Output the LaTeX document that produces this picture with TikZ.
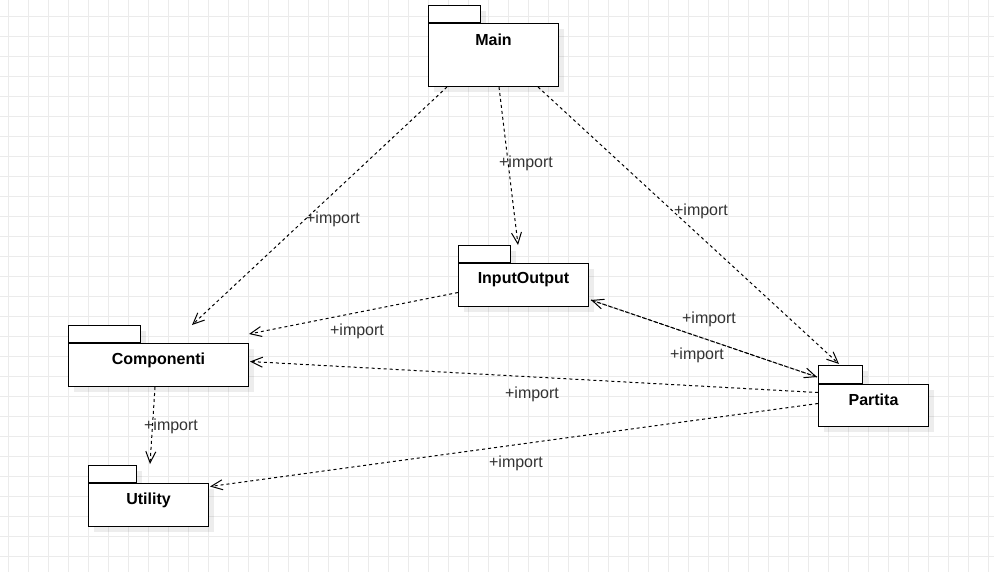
\documentclass[tikz,border=0pt]{standalone}
\usepackage{fontspec}
\setmainfont{Liberation Sans}
\usetikzlibrary{arrows.meta,calc,shadows}
\definecolor{gridc}{HTML}{EBEBEB}
\definecolor{lblc}{HTML}{333333}
\begin{document}
\begin{tikzpicture}[x=0.75pt,y=-0.75pt,
  pkgshadow/.style={drop shadow={shadow xshift=4pt,shadow yshift=-4pt,fill=black,opacity=0.07}},
  pkgtab/.style={draw=black,line width=0.75pt,fill=white,inner sep=0pt,anchor=south west,minimum height=12.75pt,pkgshadow},
  pkgbody/.style={draw=black,line width=0.75pt,fill=white,inner sep=0pt,anchor=north west,pkgshadow},
  pkgname/.style={font=\fontsize{12}{14}\selectfont\bfseries,inner sep=0pt},
  lbl/.style={font=\fontsize{12}{14}\selectfont,text=lblc,inner sep=0pt},
  dep/.style={draw=black,line width=0.75pt,dash pattern=on 2.25pt off 2.25pt,-{Straight Barb[length=8.5pt,width=7.5pt]}}
]
\useasboundingbox (0,0) rectangle (994,572);
\fill[white] (0,0) rectangle (994,572);
\foreach \gx in {8,28,...,988} \draw[gridc,line width=0.75pt] (\gx,0) -- (\gx,572);
\foreach \gy in {16,36,...,556} \draw[gridc,line width=0.75pt] (0,\gy) -- (994,\gy);

% Main
\node[pkgtab,minimum width=39pt] (maintab) at (428,23) {};
\node[pkgbody,minimum width=97.5pt,minimum height=47.25pt] (main) at (maintab.south west) {};
\node[pkgname] (mainname) at ($(main.north)+(0,17)$) {Main};

% InputOutput
\node[pkgtab,minimum width=39pt] (iotab) at (458,263) {};
\node[pkgbody,minimum width=97.5pt,minimum height=32.25pt] (io) at (iotab.south west) {};
\node[pkgname] (ioname) at ($(io.north)+(0,17)$) {InputOutput};

% Componenti
\node[pkgtab,minimum width=54pt] (comptab) at (68,343) {};
\node[pkgbody,minimum width=135pt,minimum height=32.25pt] (comp) at (comptab.south west) {};
\node[pkgname] (compname) at ($(comp.north)+(0,17)$) {Componenti};

% Utility
\node[pkgtab,minimum width=36pt] (utiltab) at (88,483) {};
\node[pkgbody,minimum width=90pt,minimum height=32.25pt] (util) at (utiltab.south west) {};
\node[pkgname] (utilname) at ($(util.north)+(0,17)$) {Utility};

% Partita
\node[pkgtab,minimum width=33pt,minimum height=13.5pt] (partab) at (818,384) {};
\node[pkgbody,minimum width=82.5pt,minimum height=31.5pt] (par) at (partab.south west) {};
\node[pkgname] (parname) at ($(par.north)+(0,16)$) {Partita};

% connectors
\draw[dep] ($(main.south west)+(19,0)$) -- ($(comp.north west)+(124,-18)$);
\draw[dep] ($(main.south west)+(71,0)$) -- ($(io.north west)+(60,-18)$);
\draw[dep] ($(main.south west)+(110,0)$) -- ($(par.north west)+(21,-20)$);
\draw[dep] ($(io.west)+(0,7.5)$) -- ($(comp.north east)+(0,-9)$);
\draw[dep] ($(io.south east)+(2,-7)$) -- ($(par.north west)+(-1,-7)$);
\draw[dep] ($(par.north west)+(-1,-7)$) -- ($(io.south east)+(2,-7)$);
\draw[dep] ($(par.west)+(0,-13)$) -- ($(comp.east)+(1,-3.5)$);
\draw[dep] ($(par.west)+(0,-2)$) -- ($(util.east)+(1,-18.5)$);
\draw[dep] ($(comp.south west)+(87,0)$) -- ($(util.north west)+(62,-19)$);

% labels
\node[lbl] (l1) at (333,219) {+import};
\node[lbl] (l2) at (526,163) {+import};
\node[lbl] (l3) at (701,211) {+import};
\node[lbl] (l4) at (357,331) {+import};
\node[lbl] (l5) at (709,319) {+import};
\node[lbl] (l6) at (697,355) {+import};
\node[lbl] (l7) at (532,394) {+import};
\node[lbl] (l8) at (516,463) {+import};
\node[lbl] (l9) at (171,426) {+import};
\end{tikzpicture}
\end{document}
